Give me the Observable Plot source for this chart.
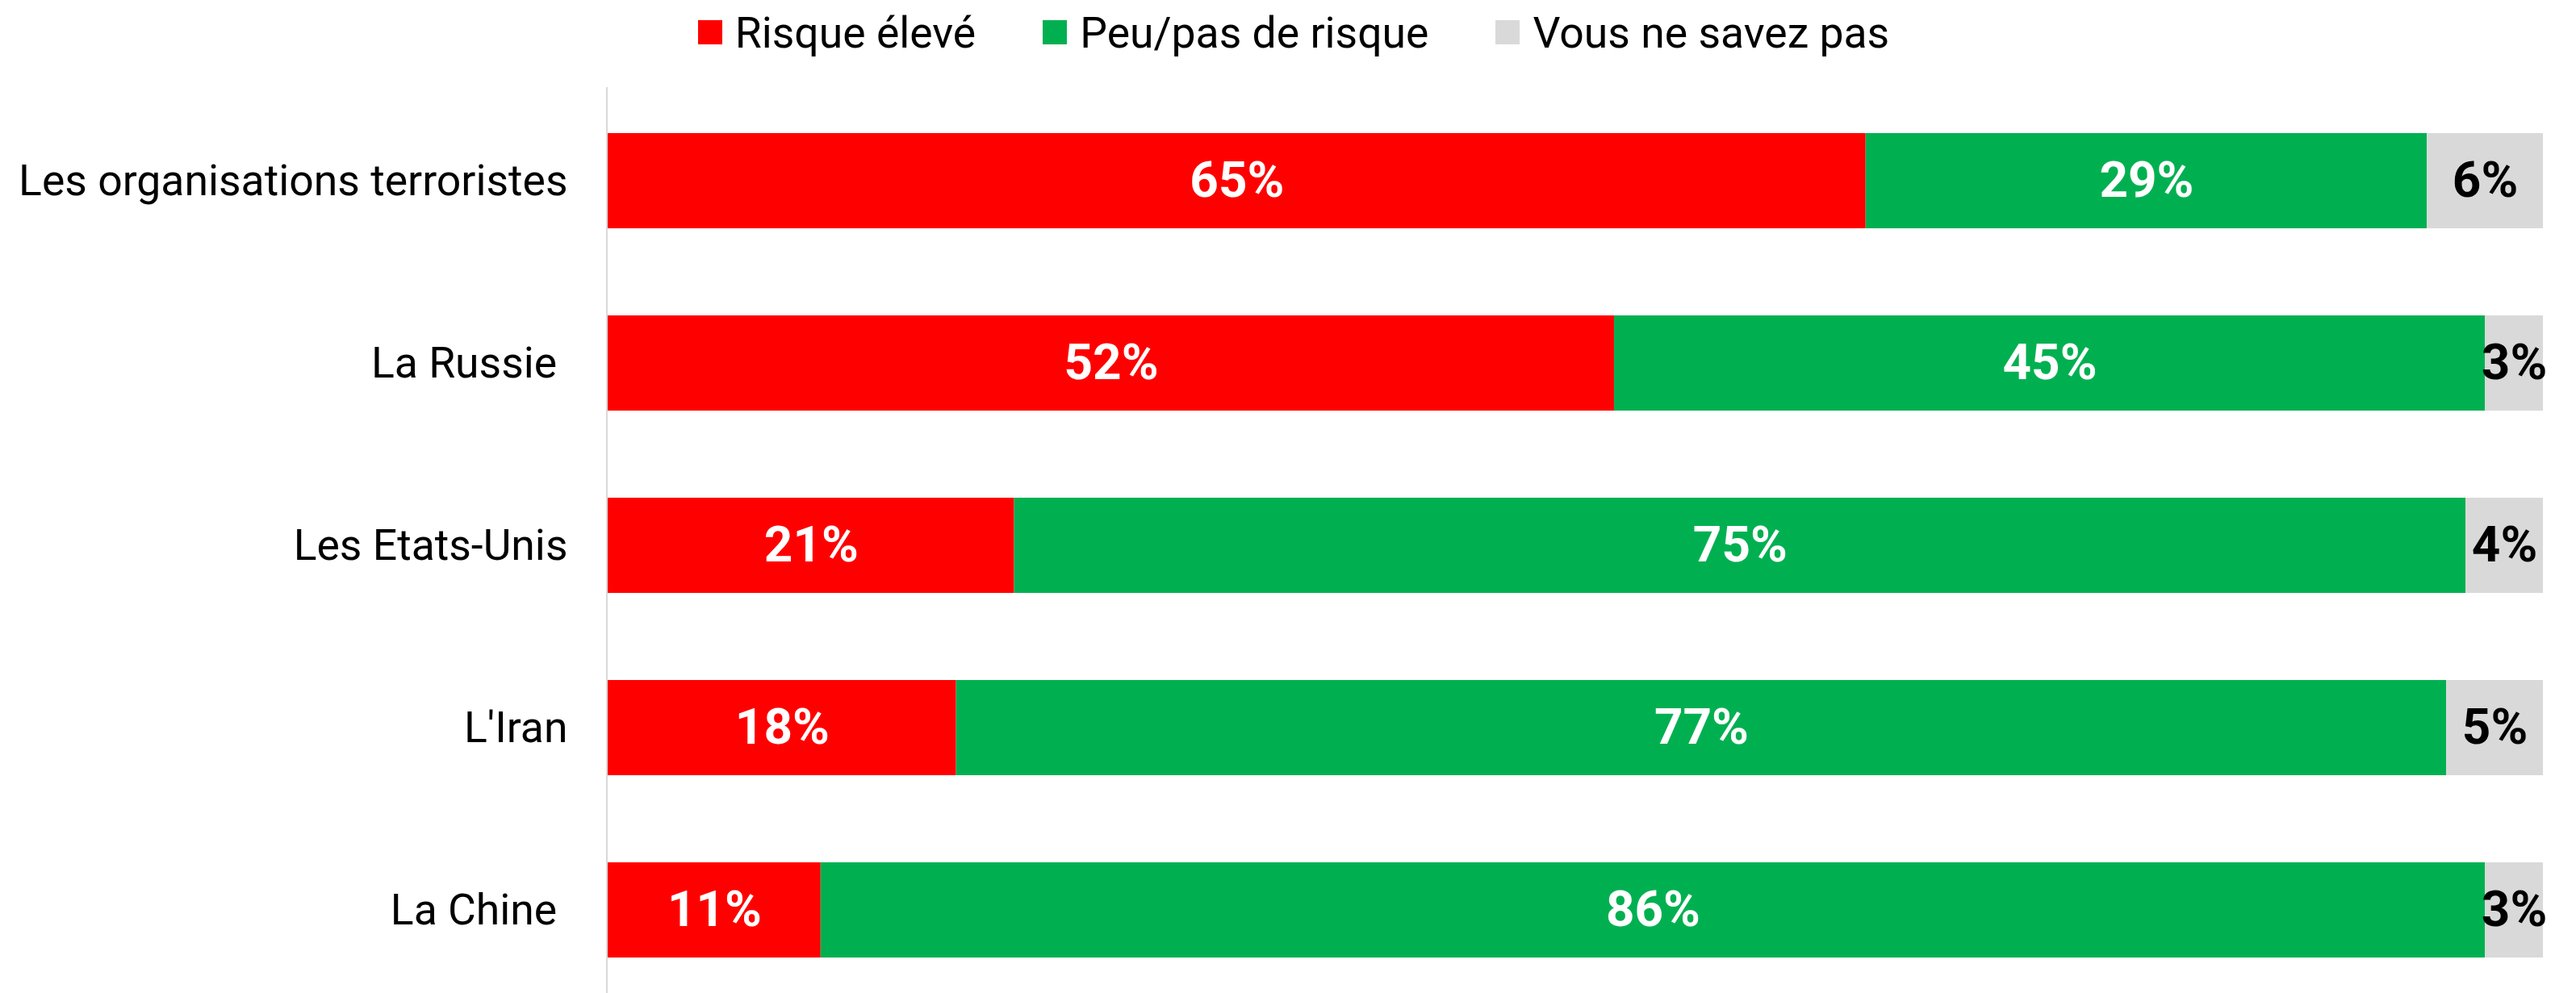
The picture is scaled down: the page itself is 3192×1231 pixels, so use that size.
<!DOCTYPE html>
<html>
<head>
<meta charset="utf-8">
<script src="https://cdn.jsdelivr.net/npm/d3@7"></script>
<script src="https://cdn.jsdelivr.net/npm/@observablehq/plot@0.6"></script>
<style>
  html, body { margin: 0; padding: 0; background: #fff; }
  body { width: 3192px; height: 1231px; overflow: hidden; font-family: Roboto, sans-serif; }
  #legend { height: 80px; display: flex; justify-content: center; align-items: center; font-size: 53.5px; color: #000; padding-left: 14px; }
  .item { display: flex; align-items: center; margin: 0 41.5px; }
  .sw { width: 30px; height: 30px; margin-right: 16px; }
  svg text { white-space: pre; }
</style>
</head>
<body>
<div id="legend"></div>
<div id="chart"></div>
<script>
const categories = ["Les organisations terroristes", "La Russie ", "Les Etats-Unis", "L'Iran", "La Chine "];
const series = ["Risque élevé", "Peu/pas de risque", "Vous ne savez pas"];
const risqueEleve = [65, 52, 21, 18, 11];
const peuPasRisque = [29, 45, 75, 77, 86];
const neSavezPas = [6, 3, 4, 5, 3];
const colors = ["#FF0000", "#00B050", "#D9D9D9"];
const labelColors = ["#FFFFFF", "#FFFFFF", "#000000"];

const values = [risqueEleve, peuPasRisque, neSavezPas];
const rows = [];
series.forEach((s, si) => {
  categories.forEach((c, ci) => {
    rows.push({cat: c, series: s, si, value: values[si][ci]});
  });
});

// Legend
const legend = document.getElementById("legend");
series.forEach((s, i) => {
  const it = document.createElement("div");
  it.className = "item";
  const sw = document.createElement("div");
  sw.className = "sw";
  sw.style.background = colors[i];
  const t = document.createElement("span");
  t.textContent = s;
  it.appendChild(sw); it.appendChild(t);
  legend.appendChild(it);
});

const chart = Plot.plot({
  width: 3192,
  height: 1151,
  marginLeft: 753,
  marginRight: 41,
  marginTop: 28,
  marginBottom: 0,
  style: {fontFamily: "Roboto, sans-serif", background: "#fff", color: "#000"},
  x: {domain: [0, 100], axis: null},
  y: {domain: categories, range: [84, 1107], paddingInner: 0.48, paddingOuter: 0, label: null},
  color: {type: "identity"},
  marks: [
    Plot.barX(rows, {x: "value", y: "cat", fill: d => colors[d.si]}),
    Plot.textX(rows, Plot.stackX({x: "value", y: "cat", z: "series",
      text: d => d.value + "%", fill: d => labelColors[d.si],
      fontSize: 62, fontWeight: "bold"})),
    Plot.ruleX([0], {stroke: "#D9D9D9", strokeWidth: 2, dx: -1.5}),
    Plot.axisY({tickSize: 0, tickPadding: 50, fontSize: 53.5, fill: "#000", label: null})
  ]
});
document.getElementById("chart").appendChild(chart);
</script>
</body>
</html>
